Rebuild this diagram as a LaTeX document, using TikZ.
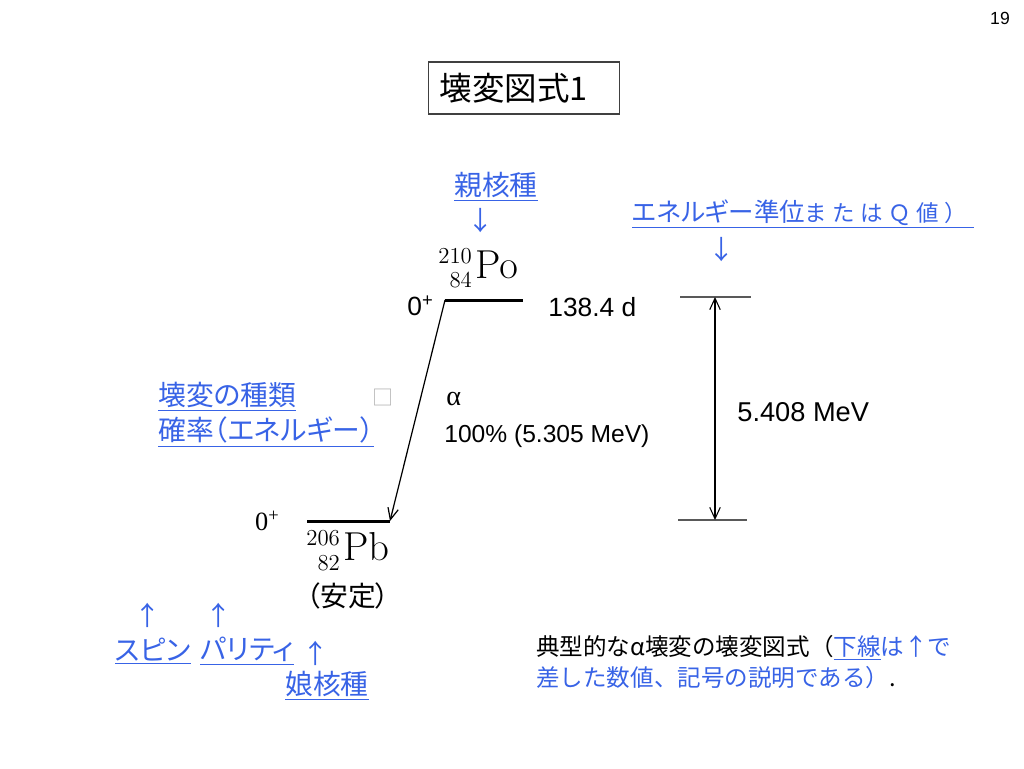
\documentclass[tikz,border=0pt]{standalone}
\usepackage{fix-cm}
\usepackage[no-math]{fontspec}
\setmainfont{Liberation Sans}
\newfontfamily\jp{Noto Sans CJK JP}[RawFeature=+palt]
\newfontfamily\jpfull{Noto Sans CJK JP}
\newfontfamily\jpwide{Noto Sans CJK JP}[LetterSpace=24]
\newfontfamily\timesfont{Liberation Serif}
\DeclareMathSizes{23}{23}{13}{9}
\usetikzlibrary{arrows.meta, positioning}
\definecolor{linkblue}{RGB}{56,99,230}

\begin{document}
\begin{tikzpicture}[x = 0.02cm, y = -0.02cm]
    \tikzset{
        jlabel/.style = {
            text = linkblue,
            inner sep = 0pt,
            anchor = west,
            font = \jp\fontsize{15.8}{18}\selectfont
        },
        jarrow/.style = {
            text = linkblue,
            inner sep = 0pt,
            font = \jp\fontsize{15}{18}\selectfont
        },
        plain/.style = {
            inner sep = 0pt,
            font = \fontsize{15}{18}\selectfont
        },
        nuclide/.style = {
            inner sep = 0pt,
            anchor = base west,
            font = \fontsize{23}{23}\selectfont
        },
        level/.style = {
            line width = 1.7pt
        },
        decay/.style = {
            line width = 0.7pt,
            -{Straight Barb[length = 6.5pt, width = 6pt]}
        },
        qline/.style = {
            draw = black!65,
            line width = 0.6pt
        },
        qarrow/.style = {
            line width = 0.6pt,
            {Straight Barb[length = 6.5pt, width = 6pt]}-{Straight Barb[length = 6.5pt, width = 6pt]}
        }
    }

    \useasboundingbox (0, 0) rectangle (1024, 768);

    \node[inner sep = 0pt, font = \fontsize{10}{12}\selectfont] (page) at (1000, 18) {19};
    \node[draw = black!75, line width = 0.8pt, minimum width = 108.8pt, minimum height = 29.5pt] (title box) at (524, 88) {};
    \node[inner sep = 0pt, font = \jp\fontsize{18.5}{20}\selectfont] (title) at (514, 88) {壊変図式1};

    \node[jarrow, font = \jp\fontsize{15.8}{18}\selectfont] (parent) at (496, 187) {\underline{親核種}};
    \node[jarrow] (parent arrow) at (481, 221) {↓};
    \node[nuclide] (po) at (438, 278) {$^{210}_{\phantom{0}84}\mkern1mu\mathrm{Po}$};

    \coordinate (poL) at (445, 300);
    \coordinate (poR) at (523, 300);
    \coordinate (pbL) at (307, 521);
    \coordinate (pbR) at (390, 521);

    \draw[level] (poL) -- (poR);
    \draw[level] (pbL) -- (pbR);
    \draw[decay] (poL) -- (pbR);

    \node[plain, anchor = east] (po spin) at (434, 306) {0\textsuperscript{+}};
    \node[plain, anchor = west] (halflife) at (548, 307) {138.4 d};
    \node[plain, anchor = east, font = \timesfont\fontsize{15}{18}\selectfont] (pb spin) at (280, 521) {0\textsuperscript{+}};
    \node[nuclide] (pb) at (306, 560) {$^{206}_{\phantom{0}82}\mkern1mu\mathrm{Pb}$};
    \node[plain, font = \jp\fontsize{15.8}{18}\selectfont] (stable) at (348, 596) {（安定）};

    \node[plain, anchor = west, font = \timesfont\fontsize{16}{18}\selectfont] (alpha) at (446, 399) {α};
    \node[plain, anchor = west, font = \fontsize{14}{17}\selectfont] (branch) at (444, 436) {100\% (5.305 MeV)};

    \coordinate (qTL) at (680, 297);
    \coordinate (qTR) at (751, 297);
    \coordinate (qBL) at (678, 520);
    \coordinate (qBR) at (747, 520);
    \coordinate (qT) at (715, 297);
    \coordinate (qB) at (715, 520);

    \draw[qline] (qTL) -- (qTR);
    \draw[qline] (qBL) -- (qBR);
    \draw[qarrow] (qT) -- (qB);
    \node[plain, anchor = west, font = \fontsize{15.5}{18}\selectfont] (qvalue) at (737, 412) {5.408 MeV};

    \node[jlabel, font = \jp\fontsize{14.5}{18}\selectfont] (qlabel) at (632, 214)
        {\underline{エネルギー準位{\jpwide\fontsize{12.8}{16}\selectfont またはＱ値）\hspace{4pt}}}};
    \node[jarrow] (qlabel arrow) at (722, 250) {↓};

    \node[jlabel] (kind) at (158, 397) {\underline{壊変の種類}};
    \node[jlabel] (ratio) at (158, 432) {\underline{確率（エネルギー）}};
    \node[jarrow, text = black!30, font = \jpfull\fontsize{12}{14}\selectfont] (missing) at (383, 397) {□};

    \foreach \x/\y/\n in {148/615/spin, 219/615/parity, 316/653/daughter}{
        \node[jarrow] (\n arrow) at (\x, \y) {↑};
    }
    \node[jlabel] (spin) at (115, 651) {\underline{スピン}};
    \node[jlabel] (parity) at (200, 651) {\underline{パリティ}};
    \node[jlabel] (daughter) at (285, 686) {\underline{娘核種}};

    \node[jlabel, font = \jpfull\fontsize{13.4}{16}\selectfont] (note1) at (536, 648)
        {{\color{black}典型的なα壊変の壊変図式（}\underline{下線}は↑で};
    \node[jlabel, font = \jpfull\fontsize{13.4}{16}\selectfont] (note2) at (536, 678)
        {差した数値、記号の説明である）{\color{black}.}};

\end{tikzpicture}
\end{document}
